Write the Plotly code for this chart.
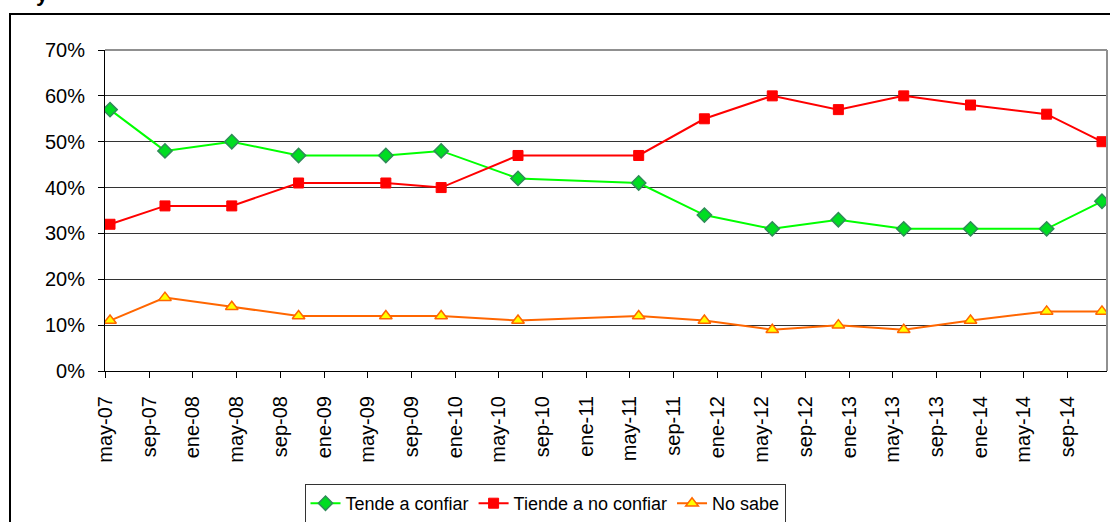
import plotly.graph_objects as go

# ---- data ----
fechas = ["2007-05-15", "2007-10-15", "2008-04-18", "2008-10-21", "2009-06-21",
          "2009-11-22", "2010-06-24", "2011-05-26", "2011-11-25", "2012-06-01",
          "2012-12-02", "2013-06-02", "2013-12-05", "2014-07-05", "2014-12-06"]
tende_confiar = [57, 48, 50, 47, 47, 48, 42, 41, 34, 31, 33, 31, 31, 31, 37]
tiende_no_confiar = [32, 36, 36, 41, 41, 40, 47, 47, 55, 60, 57, 60, 58, 56, 50]
no_sabe = [11, 16, 14, 12, 12, 12, 11, 12, 11, 9, 10, 9, 11, 13, 13]

tick_fechas = ["2007-05-01", "2007-09-01", "2008-01-01", "2008-05-01", "2008-09-01",
               "2009-01-01", "2009-05-01", "2009-09-01", "2010-01-01", "2010-05-01",
               "2010-09-01", "2011-01-01", "2011-05-01", "2011-09-01", "2012-01-01",
               "2012-05-01", "2012-09-01", "2013-01-01", "2013-05-01", "2013-09-01",
               "2014-01-01", "2014-05-01", "2014-09-01"]
tick_labels = ["may-07", "sep-07", "ene-08", "may-08", "sep-08", "ene-09", "may-09",
               "sep-09", "ene-10", "may-10", "sep-10", "ene-11", "may-11", "sep-11",
               "ene-12", "may-12", "sep-12", "ene-13", "may-13", "sep-13", "ene-14",
               "may-14", "sep-14"]

FONT = "Liberation Sans, Arial, sans-serif"

fig = go.Figure()
fig.add_trace(go.Scatter(
    x=fechas, y=tende_confiar, name="Tende a confiar", mode="lines+markers",
    line=dict(color="#00FF00", width=2),
    marker=dict(symbol="diamond", size=11, color="#00DD22",
                line=dict(color="#2E8B57", width=1.5))))
fig.add_trace(go.Scatter(
    x=fechas, y=tiende_no_confiar, name="Tiende a no confiar", mode="lines+markers",
    line=dict(color="#FF0000", width=2),
    marker=dict(symbol="square", size=10, color="#FF0000",
                line=dict(color="#FF0000", width=1))))
fig.add_trace(go.Scatter(
    x=fechas, y=no_sabe, name="No sabe", mode="lines+markers",
    line=dict(color="#FF6600", width=2),
    marker=dict(symbol="triangle-up", size=11, color="#FFFF00",
                line=dict(color="#FF6600", width=1.5))))

W, H = 1110, 522
L, R, T, B = 105, 3, 50, 151
pw, ph = W - L - R, H - T - B


def px(X):
    return (X - L) / pw


def py(Y):
    return (H - B - Y) / ph


fig.update_layout(
    width=W, height=H,
    margin=dict(l=L, r=R, t=T, b=B, pad=0, autoexpand=False),
    paper_bgcolor="white", plot_bgcolor="white",
    font=dict(family=FONT, color="black", size=17),
    showlegend=True,
    legend=dict(orientation="h", x=px(545), xanchor="center", y=py(484), yanchor="top",
                bordercolor="#333333", borderwidth=1, bgcolor="white",
                font=dict(family=FONT, size=18, color="black"),
                tracegroupgap=0),
    xaxis=dict(type="date", range=["2007-05-01", "2014-12-20"],
               tickvals=tick_fechas, ticktext=tick_labels, tickangle=-90,
               ticks="outside", ticklen=6, tickcolor="black",
               showline=True, linecolor="black", linewidth=1, mirror=False,
               showgrid=False, zeroline=False, ticklabelstandoff=10,
               tickfont=dict(family=FONT, size=20, color="black")),
    yaxis=dict(range=[0, 70], dtick=10, ticksuffix="%",
               ticks="outside", ticklen=6, tickcolor="black",
               showline=True, linecolor="black", linewidth=1,
               showgrid=True, gridcolor="#333333", gridwidth=1, zeroline=False,
               ticklabelstandoff=9,
               tickfont=dict(family=FONT, size=20, color="black")),
    shapes=[
        # plot area border top/right (grey)
        dict(type="line", xref="paper", yref="paper", x0=0, x1=1, y0=1, y1=1,
             line=dict(color="#909090", width=2)),
        dict(type="line", xref="paper", yref="paper", x0=1, x1=1, y0=0, y1=1,
             line=dict(color="#909090", width=2)),
        # outer chart frame
        dict(type="rect", xref="paper", yref="paper", x0=px(10), x1=px(1120),
             y0=py(540), y1=py(14), line=dict(color="black", width=2),
             fillcolor="rgba(0,0,0,0)", layer="below"),
    ],
    annotations=[
        dict(text="<b>y</b>", xref="paper", yref="paper", x=px(34), y=py(8),
             xanchor="left", yanchor="bottom", showarrow=False,
             font=dict(family=FONT, size=22, color="black")),
    ],
)

fig.write_html("out.html", config={"displayModeBar": False},
               post_script="document.body.style.margin='0';")
